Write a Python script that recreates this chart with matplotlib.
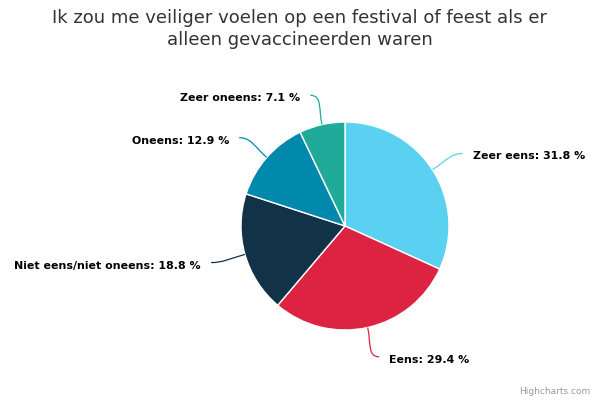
import numpy as np
import matplotlib
matplotlib.use("Agg")
import matplotlib.pyplot as plt
from matplotlib.path import Path
from matplotlib.patches import PathPatch

categories = ["Zeer eens", "Eens", "Niet eens/niet oneens", "Oneens", "Zeer oneens"]
values = [31.8, 29.4, 18.8, 12.9, 7.1]
colors = ["#5bd1f2", "#dc2342", "#123248", "#0088ad", "#20aa9a"]
title = "Ik zou me veiliger voelen op een festival of feest als er\nalleen gevaccineerden waren"

W, H = 600, 400
fig = plt.figure(figsize=(6, 4), dpi=100)
ax = fig.add_axes([0, 0, 1, 1])
ax.set_xlim(0, W)
ax.set_ylim(0, H)
ax.set_aspect("equal")
ax.axis("off")

cx, cy, r = 345, H - 226, 104
ax.pie(values, colors=colors, center=(cx, cy), radius=r, startangle=90,
       counterclock=False, wedgeprops=dict(edgecolor="white", linewidth=1))
ax.set_xlim(0, W)
ax.set_ylim(0, H)

total = sum(values)
cum = 0
dist = 30
for cat, v, c in zip(categories, values, colors):
    mid = (cum + v / 2) / total * 360
    cum += v
    ang = np.deg2rad(90 - mid)
    ux, uy = np.cos(ang), np.sin(ang)
    ex, ey = cx + r * ux, cy + r * uy
    lx, ly = cx + (r + dist) * ux, cy + (r + dist) * uy
    sign = 1 if ux >= 0 else -1
    endx = lx + sign * 5
    verts = [(ex, ey), (ex + ux * 16, ey + uy * 16), (endx - sign * 12, ly), (endx, ly)]
    codes = [Path.MOVETO, Path.CURVE4, Path.CURVE4, Path.CURVE4]
    ax.add_patch(PathPatch(Path(verts, codes), facecolor="none", edgecolor=c, lw=0.9))
    ax.text(lx + sign * 15, ly - 3, f"{cat}: {v} %", ha="left" if sign > 0 else "right",
            va="center", fontsize=7.9, fontweight="bold", color="black")

fig.text(0.5, 1 - 29 / H, title, ha="center", va="center", fontsize=13,
         color="#333333", linespacing=1.25)
fig.text(590 / W, 1 - 392 / H, "Highcharts.com", ha="right", va="center",
         fontsize=6.5, color="#999999")

fig.savefig("out.png", dpi=100)
